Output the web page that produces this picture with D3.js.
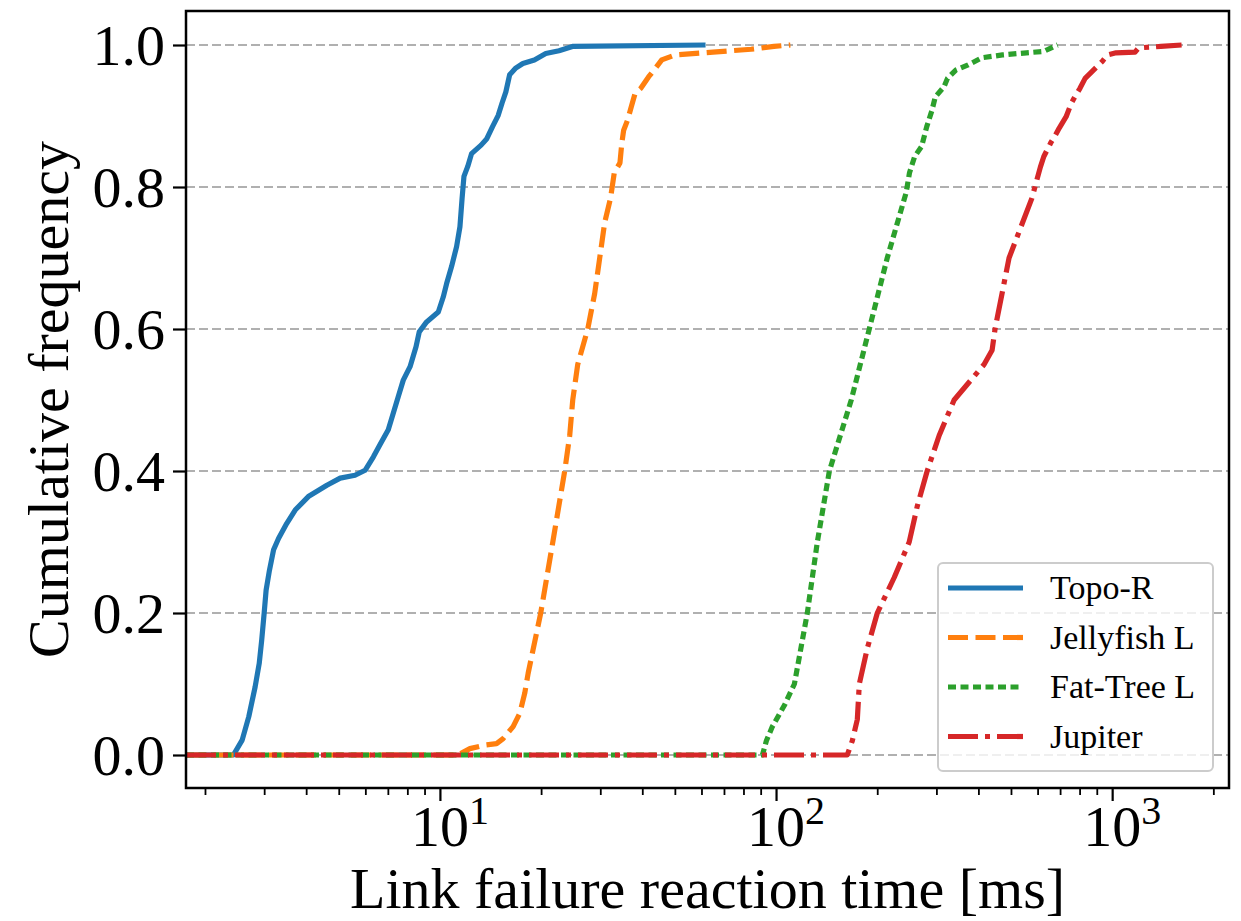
<!DOCTYPE html>
<html><head><meta charset="utf-8">
<script src="https://cdn.jsdelivr.net/npm/d3@7"></script>
<style>body{margin:0;background:#fff}</style>
</head><body>
<svg id="chart" width="1241" height="921"></svg>
<script>
// ---- data ----
const seriesNames = ["Topo-R", "Jellyfish L", "Fat-Tree L", "Jupiter"];

const topoR_x = [2.43,2.58,2.70,2.82,2.90,2.95,3.00,3.04,3.11,3.20,3.31,3.50,3.71,4.06,4.61,5.05,5.59,5.99,6.34,6.63,7.02,7.26,7.52,7.78,8.15,8.49,8.68,9.13,9.89,10.23,10.47,10.83,11.21,11.47,11.64,11.79,12.10,12.42,13.26,13.79,14.34,14.91,15.30,15.71,16.12,16.76,17.65,19.10,20.65,22.61,24.79,61.7];
const topoR_y = [0,.021,.054,.096,.129,.162,.2,.232,.26,.289,.305,.326,.345,.364,.38,.39,.394,.401,.42,.437,.458,.481,.505,.528,.547,.575,.596,.61,.624,.645,.664,.688,.716,.744,.784,.815,.829,.847,.859,.868,.885,.901,.918,.934,.958,.967,.974,.979,.988,.992,.998,1];

const jelly_x = [11.31,12.28,13.60,14.74,15.42,16.51,17.29,17.88,18.30,19.95,21.67,23.51,24.33,24.84,25.70,27.53,28.87,29.88,30.92,32.17,33.02,34.33,34.77,35.21,36.15,37.10,38.08,39.60,41.75,43.41,45.71,50.07,64.97,84.33,98.61,110.3];
const jelly_y = [0,.009,.014,.016,.023,.04,.059,.087,.115,.2,.3,.4,.45,.5,.55,.6,.65,.7,.75,.784,.82,.834,.862,.88,.894,.913,.932,.939,.955,.965,.979,.986,.99,.994,.998,1];

const fat_x = [91.1,93.6,97.5,105.9,113.4,123.9,132.7,144.1,167.4,189.4,214.2,243.8,249.5,258.5,271.0,280.8,291.0,297.8,315.9,323.6,343.2,372.8,409.8,471.7,556.6,626.1,672.2,688.1];
const fat_y = [0,.02,.04,.07,.1,.2,.3,.4,.5,.6,.7,.792,.82,.843,.857,.885,.908,.927,.941,.953,.965,.972,.982,.986,.989,.991,.998,1];

const jup_x = [162.9,168.6,174.5,176.9,186.8,200.1,224.7,249.0,263.0,281.6,305.7,338.7,415.8,439.2,448.3,493.4,576.8,597.0,611.5,626.1,656.2,672.2,695.9,729.5,756.0,774.5,802.0,830.9,881.2,934.8,968.6,1027.3,1169.8,1198.2,1396,1609];
const jup_y = [0,.02,.05,.1,.15,.2,.25,.3,.35,.4,.45,.5,.55,.57,.6,.7,.784,.81,.828,.843,.862,.87,.883,.899,.918,.927,.939,.953,.965,.977,.986,.989,.99,.996,.998,1];

const yTicks = [0, 0.2, 0.4, 0.6, 0.8, 1.0];
const xMajorExps = [1, 2, 3];
const xLabel = "Link failure reaction time [ms]";
const yLabel = "Cumulative frequency";

// ---- styles ----
const colors = ["#1f77b4", "#ff7f0e", "#2ca02c", "#d62728"];
const dashes = [null, "20,7.5", "8,4.5", "30,7,5,7"];
const FONT = "'Liberation Serif','Times New Roman',serif";
const LW = 5.2;

const series = [
  {xs: topoR_x, ys: topoR_y},
  {xs: jelly_x, ys: jelly_y},
  {xs: fat_x, ys: fat_y},
  {xs: jup_x, ys: jup_y}
].map((s, i) => ({name: seriesNames[i], color: colors[i], dash: dashes[i],
  pts: s.xs.map((v, j) => [v, s.ys[j]])}));

const L = 186, R = 1229, T = 11, B = 788;

// x domain: data extent with 5% margin in log space (like matplotlib)
const allX = series.flatMap(s => s.pts.map(p => p[0]));
const lmin = Math.log10(d3.min(allX)), lmax = Math.log10(d3.max(allX));
const m = (lmax - lmin) * 0.05;
const x = d3.scaleLog().domain([10 ** (lmin - m), 10 ** (lmax + m)]).range([L, R]);
const y = d3.scaleLinear().domain([0, 1]).range([755, 45]);

const svg = d3.select("#chart");
svg.append("rect").attr("width", 1241).attr("height", 921).attr("fill", "#fff");

svg.append("defs").append("clipPath").attr("id", "clip")
  .append("rect").attr("x", L).attr("y", T).attr("width", R - L).attr("height", B - T);

// grid
svg.append("g").selectAll("line").data(yTicks).join("line")
  .attr("x1", L).attr("x2", R).attr("y1", d => y(d)).attr("y2", d => y(d))
  .attr("stroke", "#b0b0b0").attr("stroke-width", 2).attr("stroke-dasharray", "9,4");

// lines
const line = d3.line().x(d => x(d[0])).y(d => y(d[1]));
const gLines = svg.append("g").attr("clip-path", "url(#clip)");
series.forEach(s => {
  const pts = [[x.domain()[0], 0], ...s.pts];
  gLines.append("path").datum(pts).attr("d", line)
    .attr("fill", "none").attr("stroke", s.color).attr("stroke-width", LW)
    .attr("stroke-dasharray", s.dash).attr("stroke-linejoin", "round");
});

// frame
svg.append("rect").attr("x", L).attr("y", T).attr("width", R - L).attr("height", B - T)
  .attr("fill", "none").attr("stroke", "#000").attr("stroke-width", 2.5);

// y axis
const yAx = svg.append("g").attr("transform", `translate(${L},0)`)
  .call(d3.axisLeft(y).tickValues(yTicks).tickSize(13).tickPadding(8).tickFormat(d3.format(".1f")));
yAx.select(".domain").remove();
yAx.selectAll(".tick line").attr("stroke", "#000").attr("stroke-width", 2.2);
yAx.selectAll(".tick text").attr("font-family", FONT).attr("font-size", 58).attr("fill", "#000").attr("dy", "0.34em");

// x axis major
const majors = xMajorExps.map(e => 10 ** e);
const xAx = svg.append("g").attr("transform", `translate(0,${B})`)
  .call(d3.axisBottom(x).tickValues(majors).tickSize(13).tickFormat(""));
xAx.select(".domain").remove();
xAx.selectAll(".tick line").attr("stroke", "#000").attr("stroke-width", 2.2);
// x minor
const minors = x.ticks(30).filter(v => !majors.some(M => Math.abs(M - v) < 1e-9));
const xMin = svg.append("g").attr("transform", `translate(0,${B})`)
  .call(d3.axisBottom(x).tickValues(minors).tickSize(7).tickFormat(""));
xMin.select(".domain").remove();
xMin.selectAll(".tick line").attr("stroke", "#000").attr("stroke-width", 1.8);

// x tick labels 10^k
const lab = svg.append("g").selectAll("text").data(xMajorExps).join("text")
  .attr("x", d => x(10 ** d) + 10).attr("y", 846)
  .attr("text-anchor", "middle").attr("font-family", FONT).attr("font-size", 58).attr("fill", "#000");
lab.append("tspan").text("10");
lab.append("tspan").attr("font-size", 40).attr("dy", -22).text(d => d);

// axis labels
svg.append("text").attr("x", (L + R) / 2).attr("y", 908).attr("text-anchor", "middle")
  .attr("font-family", FONT).attr("font-size", 58).attr("fill", "#000").text(xLabel);
svg.append("text").attr("transform", `translate(68,${(T + B) / 2}) rotate(-90)`).attr("text-anchor", "middle")
  .attr("font-family", FONT).attr("font-size", 58).attr("fill", "#000").text(yLabel);

// legend
const lg = svg.append("g");
lg.append("rect").attr("x", 938).attr("y", 563).attr("width", 275).attr("height", 208).attr("rx", 5)
  .attr("fill", "#fff").attr("fill-opacity", 0.8).attr("stroke", "#cccccc").attr("stroke-width", 2);
series.forEach((s, i) => {
  const yy = 588 + i * 49.5;
  lg.append("line").attr("x1", 948).attr("x2", 1023).attr("y1", yy).attr("y2", yy)
    .attr("stroke", s.color).attr("stroke-width", LW).attr("stroke-dasharray", s.dash);
  lg.append("text").attr("x", 1050).attr("y", yy + 11).attr("font-family", FONT)
    .attr("font-size", 34).attr("fill", "#000").text(s.name);
});
</script>
</body></html>
